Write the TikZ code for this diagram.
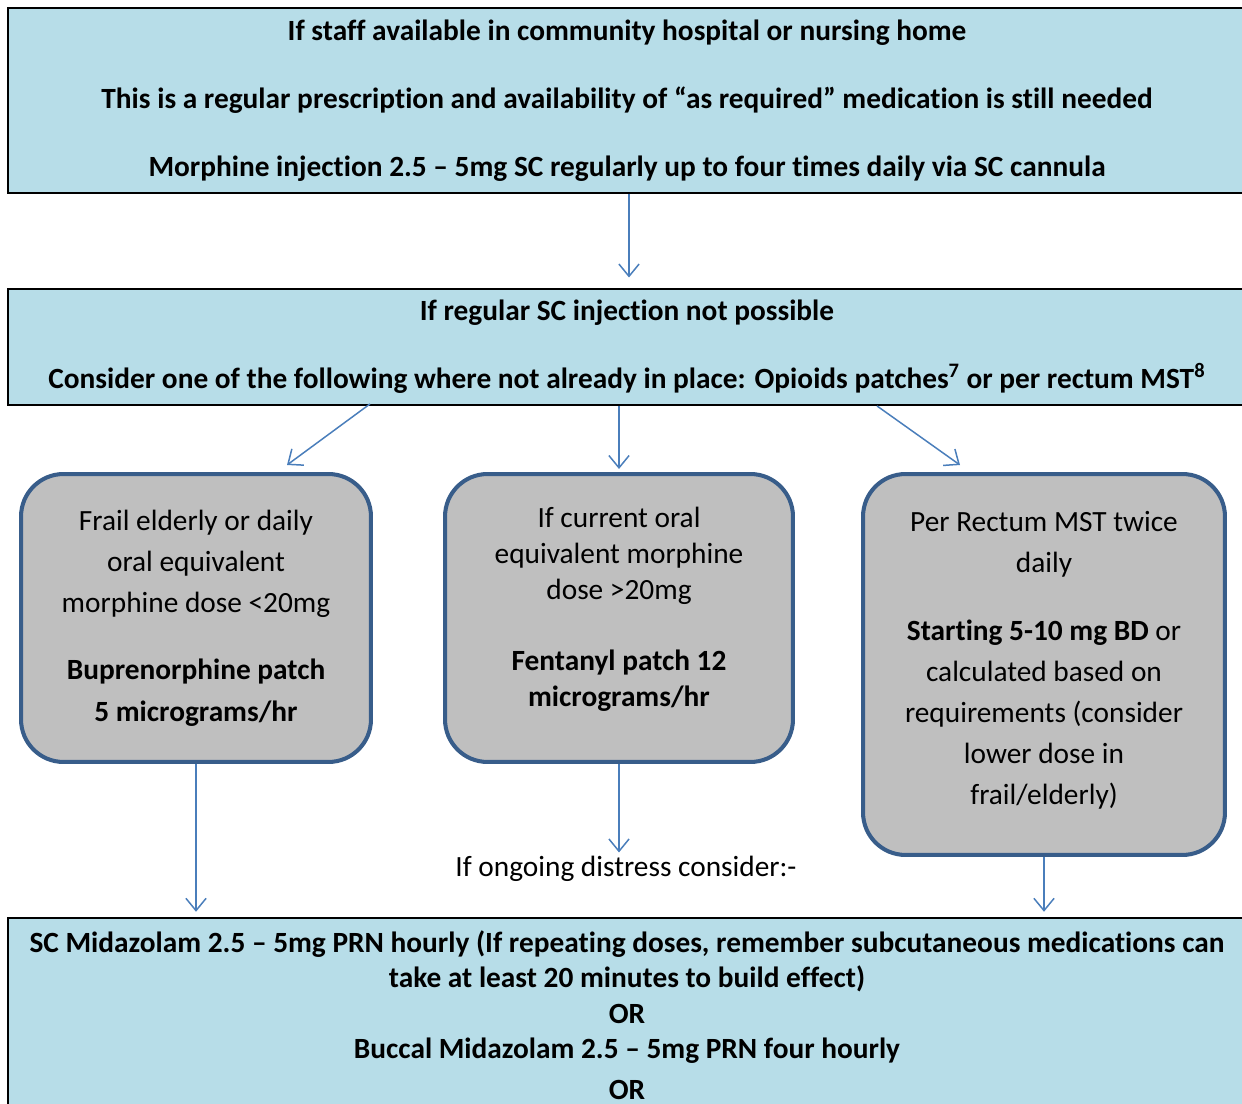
\documentclass[tikz,border=0pt]{standalone}
\usepackage{fontspec}
\setmainfont{Carlito}[Ligatures=NoCommon]
\usetikzlibrary{arrows.meta,calc,positioning}
\definecolor{panelblue}{HTML}{B7DDE8}
\definecolor{optiongrey}{HTML}{BFBFBF}
\definecolor{optionedge}{HTML}{385D8A}
\definecolor{linkblue}{HTML}{4A7EBB}
\tikzset{>={Straight Barb[length=7pt,width=11.5pt]},
  panel/.style={draw=black,line width=1.1pt,fill=panelblue,align=center,inner sep=0pt,
    font=\fontsize{16.7}{19.35}\selectfont\bfseries},
  option/.style={draw=optionedge,line width=2.3pt,fill=optiongrey,rounded corners=.85cm,
    align=center,inner sep=0pt},
  link/.style={->,draw=linkblue,line width=.85pt},
  note/.style={align=center,inner sep=2pt,font=\fontsize{16.7}{20}\selectfont}}
\begin{document}
\begin{tikzpicture}[x=.02cm,y=-.02cm]
\useasboundingbox (0,0) rectangle (1242,1104);
\node[panel,minimum width=24.76cm,minimum height=3.7cm] (staff) at (627,100.5)
  {If staff available in community hospital or nursing home\\[19.35pt]
   This is a regular prescription and availability of “as required” medication is still needed\\[19.35pt]
   Morphine injection 2.5 -- 5mg SC regularly up to four times daily via SC cannula};
\node[panel,minimum width=24.76cm,minimum height=2.32cm] (noinj) at (627,347)
  {If regular SC injection not possible\\[19.35pt]
   Consider one of the following where not already in place: Opioids patches\textsuperscript{7} or per rectum MST\textsuperscript{8}};
\node[option,minimum width=7cm,minimum height=5.76cm,font=\fontsize{16.7}{23.6}\selectfont] (bup) at (196,618)
  {Frail elderly or daily\\oral equivalent\\morphine dose <20mg\\[14.5pt]
   \textbf{Buprenorphine patch}\\\textbf{5 micrograms/hr}};
\node[option,minimum width=6.96cm,minimum height=5.76cm,font=\fontsize{16.7}{20.5}\selectfont] (fent) at (619,618)
  {If current oral\\equivalent morphine\\dose >20mg\\[19.9pt]
   \textbf{Fentanyl patch 12}\\\textbf{micrograms/hr}\\[-8pt]\mbox{}};
\node[option,minimum width=7.24cm,minimum height=7.62cm,font=\fontsize{16.7}{23.3}\selectfont] (mst) at (1044,664.5)
  {Per Rectum MST twice\\daily\\[15.4pt]
   \textbf{Starting 5-10 mg BD} or\\calculated based on\\requirements (consider\\lower dose in\\frail/elderly)\\[-16pt]\mbox{}};
\node[note] (distress) at (626,869) {If ongoing distress consider:-};
\node[panel,minimum width=24.76cm,minimum height=3.88cm,font=\fontsize{16.7}{20.2}\selectfont\bfseries] (midaz) at (627,1015)
  {SC Midazolam 2.5 -- 5mg PRN hourly (If repeating doses, remember subcutaneous medications can\\
   take at least 20 minutes to build effect)\\OR\\Buccal Midazolam 2.5 -- 5mg PRN four hourly\\[3pt]OR};
\draw[link,shorten >=6pt] ($(staff.south)+(2,0)$) -- ($(noinj.north)+(2,0)$);
\draw[link] ($(noinj.south)+(-257,-2)$) -- ($(bup.north)+(91,-7)$);
\draw[link] (noinj.south -| fent.north) -- ($(fent.north)+(0,-3)$);
\draw[link] ($(noinj.south)+(250,0)$) -- ($(mst.north)+(-84,-7)$);
\draw[link,shorten >=3pt] (bup.south) -- (bup.south |- midaz.north);
\draw[link] (fent.south) -- (fent.south |- distress.north);
\draw[link,shorten >=3pt] (mst.south) -- (mst.south |- midaz.north);
\end{tikzpicture}
\end{document}
